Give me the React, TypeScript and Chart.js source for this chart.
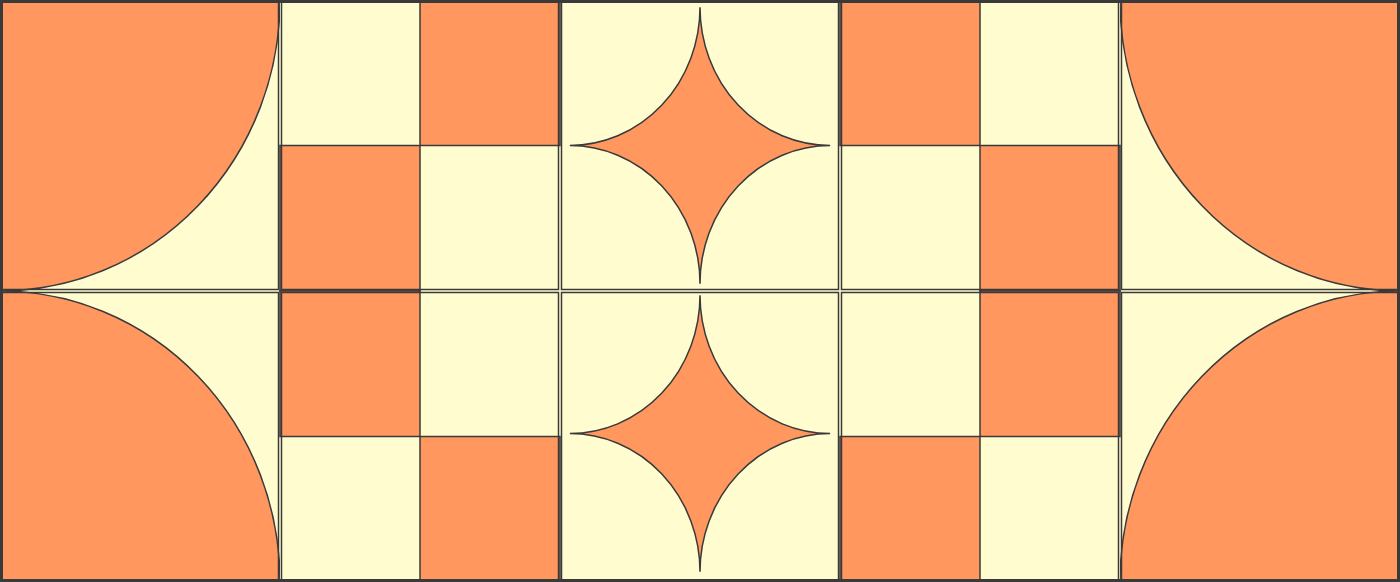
import { useEffect, useRef } from 'react'
import { Chart, registerables, type ChartConfiguration, type Plugin } from 'chart.js'

Chart.register(...registerables)

// units: x in half-tiles (0..10), y in half-tiles (0..4, top = 0)
const tiles: number[][] = [
  [0, 0, 2, 2], [0, 2, 2, 4], [2, 0, 4, 2], [2, 2, 4, 4], [4, 0, 6, 2],
  [4, 2, 6, 4], [6, 0, 8, 2], [6, 2, 8, 4], [8, 0, 10, 2], [8, 2, 10, 4],
]
const orangeCells: number[][] = [
  [3, 0], [2, 1], [2, 2], [3, 3], [6, 0], [7, 1], [7, 2], [6, 3],
]
// corner quarter circles: [cx, cy, r, tileIndex]
const arcs: [number, number, number, number][] = [
  [0, 0, 2, 0], [0, 4, 2, 1], [10, 0, 2, 8], [10, 4, 2, 9],
]
// four-point stars: [cx, cy, halfWidth, halfHeight]
const stars: number[][] = [
  [5, 1.0, 0.93, 0.95],
  [5, 2.98, 0.93, 0.95],
]

const ORANGE = '#FF975F'
const CREAM = '#FFFDD0'
const LINE = '#3a3a3a'

const patternPlugin: Plugin = {
  id: 'pattern',
  beforeDatasetsDraw(chart) {
    const { ctx } = chart
    const sx = chart.scales.x, sy = chart.scales.y
    const X = (v: number) => sx.getPixelForValue(v)
    const Y = (v: number) => sy.getPixelForValue(v)
    ctx.save()
    ctx.lineWidth = 1.5
    ctx.strokeStyle = LINE
    tiles.forEach(t => {
      ctx.fillStyle = CREAM
      ctx.fillRect(X(t[0]), Y(t[1]), X(t[2]) - X(t[0]), Y(t[3]) - Y(t[1]))
    })
    orangeCells.forEach(([cx, cy]) => {
      ctx.fillStyle = ORANGE
      ctx.fillRect(X(cx), Y(cy), X(cx + 1) - X(cx), Y(cy + 1) - Y(cy))
      ctx.strokeRect(X(cx), Y(cy), X(cx + 1) - X(cx), Y(cy + 1) - Y(cy))
    })
    arcs.forEach(([cx, cy, r, ti]) => {
      const t = tiles[ti]
      ctx.save()
      ctx.beginPath()
      ctx.rect(X(t[0]), Y(t[1]), X(t[2]) - X(t[0]), Y(t[3]) - Y(t[1]))
      ctx.clip()
      ctx.beginPath()
      ctx.ellipse(X(cx), Y(cy), X(r) - X(0), Y(r) - Y(0), 0, 0, Math.PI * 2)
      ctx.fillStyle = ORANGE
      ctx.fill()
      ctx.stroke()
      ctx.restore()
    })
    stars.forEach(([cx, cy, hw, hh]) => {
      const L = X(cx - hw), R = X(cx + hw), T = Y(cy - hh), B = Y(cy + hh)
      const rx = X(cx) - L, ry = Y(cy) - T
      const P = Math.PI
      ctx.beginPath()
      ctx.ellipse(L, T, rx, ry, 0, P / 2, 0, true)
      ctx.ellipse(R, T, rx, ry, 0, P, P / 2, true)
      ctx.ellipse(R, B, rx, ry, 0, 1.5 * P, P, true)
      ctx.ellipse(L, B, rx, ry, 0, 0, 1.5 * P, true)
      ctx.closePath()
      ctx.fillStyle = ORANGE
      ctx.fill()
      ctx.stroke()
    })
    tiles.forEach(t => {
      ctx.strokeRect(X(t[0]) + 1.5, Y(t[1]) + 1.5, X(t[2]) - X(t[0]) - 3, Y(t[3]) - Y(t[1]) - 3)
    })
    ctx.lineWidth = 3
    ctx.strokeRect(X(0) + 1.5, Y(0) + 1.5, X(10) - X(0) - 3, Y(4) - Y(0) - 3)
    ctx.restore()
  },
}

export default function App() {
  const ref = useRef<HTMLCanvasElement>(null)
  const chartRef = useRef<Chart | null>(null)

  useEffect(() => {
    document.body.style.margin = '0'
    if (!ref.current) return
    chartRef.current?.destroy()
    const config: ChartConfiguration = {
      type: 'scatter',
      data: { datasets: [{ data: [], pointRadius: 0 }] },
      options: {
        animation: false,
        responsive: true,
        maintainAspectRatio: false,
        layout: { padding: 0 },
        plugins: { legend: { display: false }, tooltip: { enabled: false } },
        scales: {
          x: { type: 'linear', min: 0, max: 10, display: false },
          y: { type: 'linear', min: 0, max: 4, reverse: true, display: false },
        },
      },
      plugins: [patternPlugin],
    }
    chartRef.current = new Chart(ref.current, config)
    return () => chartRef.current?.destroy()
  }, [])

  return (
    <div style={{ width: 1400, height: 582 }}>
      <canvas ref={ref} />
    </div>
  )
}
